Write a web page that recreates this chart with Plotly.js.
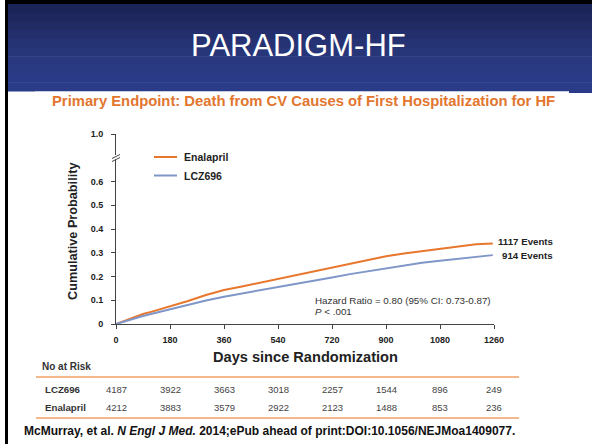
<!DOCTYPE html>
<html>
<head>
<meta charset="utf-8">
<script src="https://cdn.plot.ly/plotly-3.0.1.min.js"></script>
<style>html,body{margin:0;padding:0;background:#fff;}#chart{width:592px;height:444px;}</style>
</head>
<body>
<div id="chart"></div>
<script>
// ---- data ----
const days = [0, 30, 60, 90, 120, 180, 240, 300, 360, 420, 480, 540, 600, 660, 720, 780, 840, 900, 960, 1020, 1080, 1140, 1200, 1256];
const enalapril = [0, 0.015, 0.030, 0.042, 0.052, 0.074, 0.097, 0.122, 0.143, 0.158, 0.174, 0.189, 0.204, 0.222, 0.238, 0.255, 0.270, 0.285, 0.297, 0.307, 0.316, 0.326, 0.336, 0.339];
const lcz696 = [0, 0.012, 0.024, 0.034, 0.043, 0.062, 0.080, 0.099, 0.115, 0.128, 0.142, 0.155, 0.168, 0.182, 0.196, 0.210, 0.222, 0.237, 0.248, 0.258, 0.266, 0.275, 0.284, 0.290];
const xTicks = [0, 180, 360, 540, 720, 900, 1080, 1260];
const yTickVals = [0, 0.1, 0.2, 0.3, 0.4, 0.5, 0.6, 0.8];
const yTickText = ['0', '0.1', '0.2', '0.3', '0.4', '0.5', '0.6', '1.0'];
const riskDays = [0, 180, 360, 540, 720, 900, 1080, 1260];
const riskLCZ = [4187, 3922, 3663, 3018, 2257, 1544, 896, 249];
const riskEnal = [4212, 3883, 3579, 2922, 2123, 1488, 853, 236];
const seriesNames = ['Enalapril', 'LCZ696'];
const eventLabels = ['1117 Events', '914 Events'];

// ---- layout helpers (pixel -> paper) ----
const L = 116, R = 494, T = 134, B = 324;
const px = x => (x - L) / (R - L);
const py = y => (B - y) / (B - T);
const FONT = 'Liberation Sans, Arial, sans-serif';
const ORANGE = '#e8772e', BLUE = '#7f96c9';

const traces = [
  {x: days, y: enalapril, name: seriesNames[0], type: 'scatter', mode: 'lines',
   line: {color: ORANGE, width: 2}, hoverinfo: 'skip', showlegend: false, cliponaxis: false},
  {x: days, y: lcz696, name: seriesNames[1], type: 'scatter', mode: 'lines',
   line: {color: BLUE, width: 2}, hoverinfo: 'skip', showlegend: false, cliponaxis: false}
];

const shapes = [];
const rectPx = (x0, y0, x1, y1, color, layer) => shapes.push({type: 'rect', xref: 'paper', yref: 'paper',
  x0: px(x0), x1: px(x1), y0: py(y0), y1: py(y1), fillcolor: color, line: {width: 0}, layer: layer || 'below'});
const linePx = (x0, y0, x1, y1, color, w, layer) => shapes.push({type: 'line', xref: 'paper', yref: 'paper',
  x0: px(x0), x1: px(x1), y0: py(y0), y1: py(y1), line: {color: color, width: w}, layer: layer || 'above'});

// frame
rectPx(5, 0, 8, 444, '#000');
rectPx(5, 0, 592, 4, '#000');
// header gradient bands
const hdr = ['#1b2457', '#1e285e', '#212c65', '#232f6c', '#253273', '#273579', '#28377e', '#293982', '#2a3a86', '#2a3b88'];
const hTop = 4, hBot = 91, bh = (hBot - hTop) / hdr.length;
hdr.forEach((c, i) => rectPx(8, hTop + i * bh, 592, hTop + (i + 1) * bh + 0.5, c));
rectPx(569, 91, 592, 93, '#2a3b88');
linePx(35, 91.5, 569, 91.5, '#c5cbe0', 1, 'below');

// y-axis break
rectPx(111, 155, 121, 159.5, '#fff', 'above');
linePx(112, 158.5, 120, 154.5, '#444', 1);
linePx(112, 161.5, 120, 157.5, '#444', 1);

// legend lines
linePx(154, 157, 177, 157, ORANGE, 2);
linePx(154, 175.5, 177, 175.5, BLUE, 2);

// table lines
linePx(36, 377, 519, 377, '#f0a065', 1.5);
linePx(36, 418, 519, 418, '#f0a065', 1.5);

const ann = [];
const textPx = (x, y, text, size, color, opts) => ann.push(Object.assign({
  xref: 'paper', yref: 'paper', x: px(x), y: py(y), text: text, showarrow: false,
  xanchor: 'left', yanchor: 'middle', font: {family: FONT, size: size, color: color}}, opts || {}));

textPx(298, 46, 'PARADIGM-HF', 31, '#ffffff', {xanchor: 'center'});
textPx(303, 101, '<b>Primary Endpoint: Death from CV Causes of First Hospitalization for HF</b>', 14.8, '#e2762f', {xanchor: 'center'});
textPx(73, 232, '<b>Cumulative Probability</b>', 12.7, '#222', {xanchor: 'center', textangle: -90});
textPx(305, 357, '<b>Days since Randomization</b>', 14.6, '#222', {xanchor: 'center'});
textPx(182, 157, '<b>' + seriesNames[0] + '</b>', 10.5, '#222');
textPx(182, 175.5, '<b>' + seriesNames[1] + '</b>', 10.5, '#222');
textPx(555, 241, '<b>' + eventLabels[0] + '</b>', 9.7, '#222', {xanchor: 'right'});
textPx(555, 255, '<b>' + eventLabels[1] + '</b>', 9.7, '#222', {xanchor: 'right'});
textPx(313, 300, 'Hazard Ratio = 0.80 (95% CI: 0.73-0.87)', 9.8, '#333');
textPx(313, 311, '<i>P</i> < .001', 9.8, '#333');
textPx(40, 366, '<b>No at Risk</b>', 10, '#333');
textPx(43, 389, '<b>' + seriesNames[1] + '</b>', 9.7, '#333');
textPx(43, 407, '<b>' + seriesNames[0] + '</b>', 9.7, '#333');
riskDays.forEach((d, i) => {
  ann.push({xref: 'x', yref: 'paper', x: d, y: py(389), text: String(riskLCZ[i]), showarrow: false,
    xanchor: 'center', yanchor: 'middle', font: {family: FONT, size: 9.5, color: '#444'}});
  ann.push({xref: 'x', yref: 'paper', x: d, y: py(407), text: String(riskEnal[i]), showarrow: false,
    xanchor: 'center', yanchor: 'middle', font: {family: FONT, size: 9.5, color: '#444'}});
});
textPx(22, 431, '<b>McMurray, et al. <i>N Engl J Med.</i> 2014;ePub ahead of print:DOI:10.1056/NEJMoa1409077.</b>', 12, '#111');

const layout = {
  width: 592, height: 444,
  margin: {l: L, r: 592 - R, t: T, b: 444 - B, pad: 0},
  paper_bgcolor: '#fff', plot_bgcolor: 'rgba(0,0,0,0)',
  showlegend: false,
  font: {family: FONT},
  xaxis: {range: [0, 1260], tickvals: xTicks, ticktext: xTicks.map(String), showgrid: false, zeroline: false,
    showline: true, linecolor: '#444', linewidth: 1, ticks: 'outside', ticklen: 4, tickcolor: '#444',
    ticklabelstandoff: 3,
    tickfont: {family: FONT, size: 9, color: '#222', weight: 'bold'}, fixedrange: true},
  yaxis: {range: [0, 0.8], tickvals: yTickVals, ticktext: yTickText, showgrid: false, zeroline: false,
    showline: true, linecolor: '#444', linewidth: 1, ticks: 'outside', ticklen: 4, tickcolor: '#444',
    ticklabelstandoff: 6,
    tickfont: {family: FONT, size: 9, color: '#222', weight: 'bold'}, fixedrange: true},
  shapes: shapes,
  annotations: ann
};
Plotly.newPlot('chart', traces, layout, {staticPlot: true, displayModeBar: false});
</script>
</body>
</html>
